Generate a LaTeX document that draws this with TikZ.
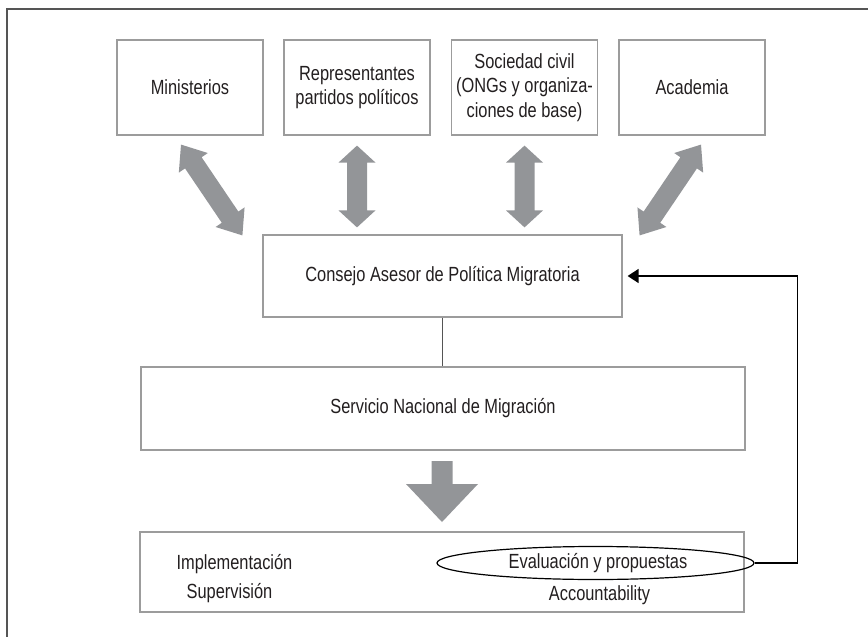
\documentclass[tikz,border=0pt]{standalone}
\usepackage{fontspec}
\setmainfont{Liberation Sans}[FakeStretch=0.8]
\usetikzlibrary{calc,arrows.meta,shapes.geometric}
\definecolor{txt}{HTML}{231F20}
\definecolor{boxline}{HTML}{9C9C9C}
\definecolor{arrowgray}{HTML}{939598}
\definecolor{framegray}{HTML}{555555}
% #1 from, #2 to, #3 head length, #4 head half width, #5 shaft half width
\newcommand\dblarrow[5]{%
  \fill[arrowgray] (#1)
    -- ($(#1)!#3!(#2)!#4!90:(#2)$)
    -- ($(#1)!#3!(#2)!#5!90:(#2)$)
    -- ($(#2)!#3!(#1)!#5!-90:(#1)$)
    -- ($(#2)!#3!(#1)!#4!-90:(#1)$)
    -- (#2)
    -- ($(#2)!#3!(#1)!#4!90:(#1)$)
    -- ($(#2)!#3!(#1)!#5!90:(#1)$)
    -- ($(#1)!#3!(#2)!#5!-90:(#2)$)
    -- ($(#1)!#3!(#2)!#4!-90:(#2)$)
    -- cycle;}
\begin{document}
\begin{tikzpicture}[x=1pt,y=-1pt,
  boxnode/.style={draw=boxline, line width=1.2pt, fill=white, text=txt,
    align=center, inner sep=0pt,
    font=\fontsize{20.5}{24.5}\selectfont},
  topbox/.style={boxnode, minimum width=146pt, minimum height=95pt},
  widebox/.style={boxnode, minimum width=604pt, minimum height=82pt},
  plain/.style={text=txt, inner sep=0pt, font=\fontsize{20.5}{24.5}\selectfont},
  framestyle/.style={draw=framegray, line width=1.6pt},
  link/.style={draw=framegray, line width=1.4pt},
  feedback/.style={draw=black, line width=1.4pt,
    -{Triangle[length=11pt,width=14pt]}, shorten >=5pt}
]
\useasboundingbox (0,0) rectangle (868,637);

% frame
\coordinate (fbl) at (7,637);
\coordinate (ftl) at (7,9);
\coordinate (ftr) at (868,9);
\draw[framestyle] (fbl) -- (ftl) -- (ftr);

% top row
\node[topbox] (min) at (190,87.5) {Ministerios};
\node[topbox] (rep) at (357,87.5) {Representantes\\partidos políticos};
\node[topbox] (soc) at (524.5,87.5) {Sociedad civil\\(ONGs y organiza-\\ciones de base)};
\node[topbox] (aca) at (692,87.5) {Academia};

% council
\node[boxnode, minimum width=359pt, minimum height=82pt] (cons) at (442.5,276)
  {Consejo Asesor de Política Migratoria};

% service
\node[widebox, minimum height=83pt] (serv) at (443,408.5) {Servicio Nacional de Migración};

% bottom box
\node[widebox, minimum height=80pt] (bot) at (442,572) {};
\node[plain] (impl) at (234.5,564) {Implementación};
\node[plain] (sup) at (229.5,593.5) {Supervisión};
\node[draw=black, line width=1.2pt, ellipse, inner sep=0pt,
  minimum width=317pt, minimum height=33pt, text=txt,
  font=\fontsize{20.5}{24.5}\selectfont] (eva) at (595.5,563) {\hspace*{5pt}Evaluación y propuestas};
\node[plain] (acc) at (599.5,595) {Accountability};

% connector council -> service
\draw[link] (cons.south) -- (serv.north -| cons.south);

% double arrows
\coordinate (m1) at ($(min.south)+(-9,9)$);
\coordinate (m2) at ($(cons.north west)+(-20,1)$);
\dblarrow{m1}{m2}{22pt}{17.5pt}{10pt}
\coordinate (r1) at ($(rep.south)+(0,10)$);
\coordinate (r2) at ($(cons.north -| rep.south)+(0,-7)$);
\dblarrow{r1}{r2}{17pt}{18.5pt}{10pt}
\coordinate (s1) at ($(soc.south)+(0,10)$);
\coordinate (s2) at ($(cons.north -| soc.south)+(0,-7)$);
\dblarrow{s1}{s2}{17pt}{18.5pt}{10pt}
\coordinate (a1) at ($(aca.south)+(9,9)$);
\coordinate (a2) at ($(cons.north east)+(17,1)$);
\dblarrow{a1}{a2}{22pt}{17.5pt}{10pt}

% big down arrow
\coordinate (dtop) at (442,461);
\coordinate (dtip) at (442,522);
\fill[arrowgray] ($(dtop)+(-10.5,0)$) -- ($(dtop)+(10.5,0)$)
  -- ($(dtop)+(10.5,23)$) -- ($(dtop)+(36,23)$) -- (dtip)
  -- ($(dtop)+(-36,23)$) -- ($(dtop)+(-10.5,23)$) -- cycle;

% feedback
\draw[feedback] (eva.east) -- ++(43,0) |- (cons.east);
\end{tikzpicture}
\end{document}
